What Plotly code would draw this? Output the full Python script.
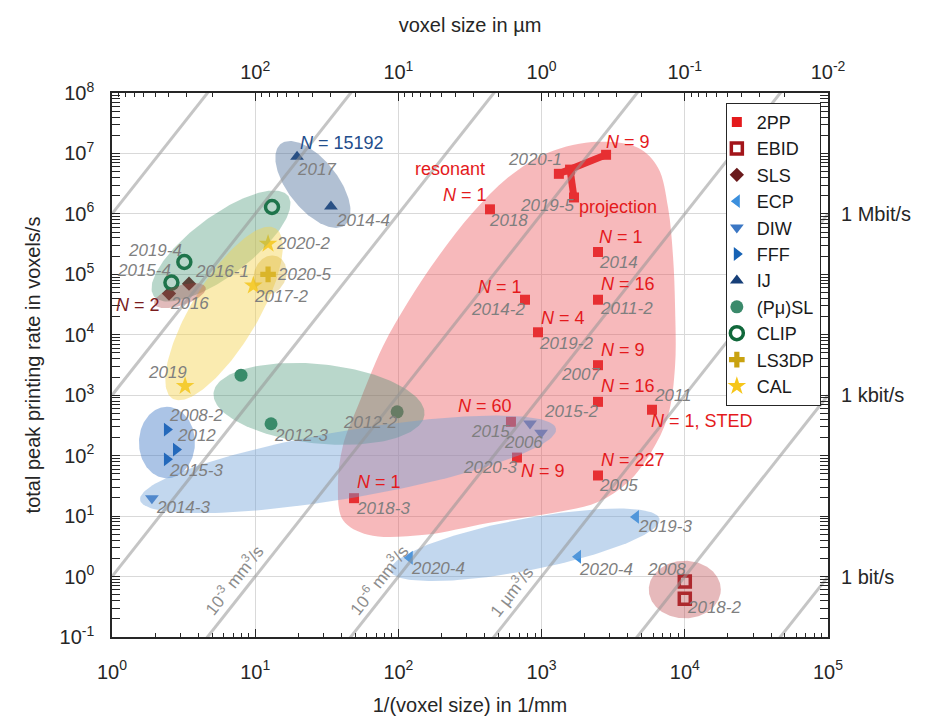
import numpy as np
import plotly.graph_objects as go

# ---------------- data (x: 1/voxel size in 1/mm, y: voxels/s) ----------------
pp_x = [436, 2477, 2477, 766, 944, 2477, 2477, 5900, 611, 673, 2477, 49]
pp_y = [1.19e6, 2.34e5, 3.8e4, 3.8e4, 1.1e4, 3.14e3, 777, 575, 363, 93, 47, 19.8]
pp_year = ['2018', '2014', '2011-2', '2014-2', '2019-2', '2007', '2015-2', '2011', '2015', '2020-3', '2005', '2018-3']
pp_N = ['1', '1', '16', '1', '4', '9', '16', '1, STED', '60', '9', '227', '1']

# 2PP projection / resonant "T" (2020-1 -> N=9 ; branch -> 2019-5)
proj_x = [1320, 2820]
proj_y = [4.6e6, 9.5e6]
branch_x = [1580, 1683]
branch_y = [5.4e6, 1.87e6]

ebid_x = [1e4, 1e4]
ebid_y = [0.83, 0.43]
ebid_year = ['2008', '2018-2']

sls_x = [3.45, 2.5]
sls_y = [7e4, 4.8e4]
sls_year = ['2016-1', '2016']

ecp_x = [4560, 1796, 120]
ecp_y = [9.7, 2.13, 2.05]
ecp_year = ['2019-3', '2020-4', '2020-4']

diw_x = [1.9, 830, 991]
diw_y = [19.8, 339, 240]
diw_year = ['2014-3', '2006', '']

fff_x = [2.42, 2.8, 2.42]
fff_y = [270, 126, 87]
fff_year = ['2008-2', '2012', '2015-3']

ij_x = [19.6, 33.8]
ij_y = [8.8e6, 1.33e6]
ij_year = ['2017', '2014-4']

psl_x = [7.96, 12.9, 98]
psl_y = [2150, 337, 532]
psl_year = ['', '2012-3', '2012-2']

clip_x = [13.1, 3.2, 2.6]
clip_y = [1.3e6, 1.6e5, 7.3e4]
clip_year = ['', '2019-4', '2015-4']

ls3dp_x = [12.3]
ls3dp_y = [1.0e5]
ls3dp_year = ['2020-5']

cal_x = [12.3, 9.7, 3.24]
cal_y = [3.2e5, 6.5e4, 1420]
cal_year = ['2020-2', '2017-2', '2019']

# constant volumetric rate lines (mm^3/s): y = V * x^3
vol_rates = [1e6, 1e3, 1, 1e-3, 1e-6, 1e-9, 1e-12, 1e-15]
vol_labels = ['10<sup>-3</sup> mm<sup>3</sup>/s', '10<sup>-6</sup> mm<sup>3</sup>/s', '1 µm<sup>3</sup>/s']
vol_label_x = [7.0, 72, 611]
vol_label_y = [0.89, 0.89, 0.57]

# 2PP region outline
red_x = [2477, 4710, 6500, 7640, 8280, 8550, 8550, 7640, 5810, 4010, 2477, 1300, 423, 153,
         61.4, 41.0, 37.8, 41.0, 52.2, 78.0, 117, 189, 332, 582, 1109]
red_y = [1.56e7, 1.24e7, 5.82e6, 1.28e6, 1.94e5, 2.92e4, 3030, 457, 113, 36.3, 17.1, 11.7, 7.7, 4.9,
         4.9, 8.6, 32.4, 147, 667, 6460, 3.53e4, 1.94e5, 1.06e6, 3.99e6, 1.03e7]

# tick values
x_ticks = [1, 10, 100, 1e3, 1e4, 1e5]
x_ticktext = ['10<sup>0</sup>', '10<sup>1</sup>', '10<sup>2</sup>', '10<sup>3</sup>', '10<sup>4</sup>', '10<sup>5</sup>']
top_ticks = [10, 100, 1e3, 1e4, 1e5]
top_ticktext = ['10<sup>2</sup>', '10<sup>1</sup>', '10<sup>0</sup>', '10<sup>-1</sup>', '10<sup>-2</sup>']
y_ticks = [10.0 ** k for k in range(-1, 9)]
y_ticktext = ['10<sup>%d</sup>' % k for k in range(-1, 9)]
right_ticks = [1, 1e3, 1e6]
right_ticktext = ['1 bit/s', '1 kbit/s', '1 Mbit/s']

# ---------------- styling ----------------
FONT = 'Liberation Sans, Arial, Helvetica, sans-serif'
XDEC = 716 / 5.0
YDEC = 548 / 9.0
GRAY = '#7f7f7f'
RED = '#e41a1c'

fig = go.Figure()


def add_markers(name, xs, ys, symbol, color, size, lw=0):
    fig.add_trace(go.Scatter(
        x=xs, y=ys, mode='markers', name=name,
        marker=dict(symbol=symbol, color=color, size=size,
                    line=dict(width=lw, color=color)),
        hoverinfo='skip'))


add_markers('2PP', pp_x, pp_y, 'square', RED, 10)
add_markers('EBID', ebid_x, ebid_y, 'square-open', '#a3151a', 11, 3.5)
add_markers('SLS', sls_x, sls_y, 'diamond', '#6a1a1c', 11)
add_markers('ECP', ecp_x, ecp_y, 'triangle-left', '#3b8fdd', 12)
add_markers('DIW', diw_x, diw_y, 'triangle-down', '#3b77c4', 12)
add_markers('FFF', fff_x, fff_y, 'triangle-right', '#1763b5', 12)
add_markers('IJ', ij_x, ij_y, 'triangle-up', '#163f78', 12)
add_markers('(Pμ)SL', psl_x, psl_y, 'circle', '#3b8a6b', 13)
add_markers('CLIP', clip_x, clip_y, 'circle-open', '#11683b', 13, 3.5)
add_markers('LS3DP', ls3dp_x, ls3dp_y, 'cross', '#c9a210', 13)
add_markers('CAL', cal_x, cal_y, 'star', '#f6c61a', 14)

# projection T shape
for xs, ys in [(proj_x, proj_y), (branch_x, branch_y)]:
    fig.add_trace(go.Scatter(x=xs, y=ys, mode='lines+markers', showlegend=False,
                             line=dict(color=RED, width=7),
                             marker=dict(symbol='square', size=10, color=RED),
                             hoverinfo='skip'))


def ellipse(cx, cy, a, b, ang):
    t = np.linspace(0, 2 * np.pi, 160)
    th = np.deg2rad(ang)
    ox = a * np.cos(t) * np.cos(th) - b * np.sin(t) * np.sin(th)
    oy = a * np.cos(t) * np.sin(th) + b * np.sin(t) * np.cos(th)
    return 10 ** (np.log10(cx) + ox / XDEC), 10 ** (np.log10(cy) + oy / YDEC)


regions = [
    # cx, cy, semi-axis a (px), semi-axis b (px), angle, color
    (25.3, 3.07e6, 52, 25, -52, 'rgba(70,105,150,0.42)'),     # IJ
    (5.77, 2.94e5, 84, 30, 37, 'rgba(55,140,105,0.35)'),       # CLIP/(Pu)SL
    (6.06, 2.25e4, 100, 33, 59, 'rgba(245,210,80,0.45)'),      # CAL
    (12.7, 9.8e4, 20, 16, 70, 'rgba(215,175,40,0.35)'),        # LS3DP
    (2.98, 4.44e4, 27, 10, 18, 'rgba(170,60,60,0.35)'),        # SLS
    (27.9, 719, 106, 40, -6, 'rgba(55,140,105,0.35)'),         # (Pu)SL
    (2.42, 165, 36, 28, 90, 'rgba(55,115,195,0.42)'),          # FFF
    (44.5, 71.8, 211, 34, 9.8, 'rgba(110,160,215,0.42)'),      # DIW
    (766, 3.35, 137, 26, 11, 'rgba(110,160,215,0.42)'),        # ECP
    (1.0e4, 0.61, 36, 29, 0, 'rgba(190,70,75,0.38)'),          # EBID
]

fig.add_trace(go.Scatter(x=red_x + [red_x[0]], y=red_y + [red_y[0]], mode='lines',
                         line=dict(width=0, shape='spline', smoothing=1.0),
                         fill='toself', fillcolor='rgba(235,80,85,0.40)',
                         showlegend=False, hoverinfo='skip'))
for cx, cy, a, b, ang, col in regions:
    ex, ey = ellipse(cx, cy, a, b, ang)
    fig.add_trace(go.Scatter(x=ex, y=ey, mode='lines', line=dict(width=0),
                             fill='toself', fillcolor=col, showlegend=False,
                             hoverinfo='skip'))

# constant-volume-rate lines
for v in vol_rates:
    lx = np.array([1.0, 1e5])
    fig.add_trace(go.Scatter(x=lx, y=v * lx ** 3, mode='lines', showlegend=False,
                             line=dict(color='rgba(150,150,150,0.55)', width=3),
                             hoverinfo='skip'))

# dummy traces to activate secondary axes
fig.add_trace(go.Scatter(x=[10], y=[10], xaxis='x2', yaxis='y', mode='markers',
                         marker=dict(opacity=0), showlegend=False, hoverinfo='skip'))
fig.add_trace(go.Scatter(x=[10], y=[10], xaxis='x', yaxis='y2', mode='markers',
                         marker=dict(opacity=0), showlegend=False, hoverinfo='skip'))

# ---------------- annotations ----------------
ann = []


def label(x, y, text, dx, dy, color=GRAY, size=17, italic=True):
    t = '<i>%s</i>' % text if italic else text
    ann.append(dict(x=np.log10(x), y=np.log10(y), xref='x', yref='y', text=t,
                    showarrow=False, xshift=dx, yshift=dy, xanchor='center',
                    yanchor='middle', font=dict(size=size, color=color, family=FONT)))


def nlabel(x, y, n, dx, dy, color=RED):
    ann.append(dict(x=np.log10(x), y=np.log10(y), xref='x', yref='y',
                    text='<i>N</i> = %s' % n, showarrow=False, xshift=dx, yshift=dy,
                    xanchor='center', yanchor='middle',
                    font=dict(size=18, color=color, family=FONT)))


pp_year_off = [(19, -11), (20, -10), (28, -9), (-27, -10), (28, -11), (-18, -9), (-27, -10),
               (21, 14), (-20, -10), (-27, -10), (20, -10), (29, -10)]
pp_N_off = [(-25, 14), (23, 15), (30, 16), (-25, 13), (25, 14), (25, 15), (30, 16),
            (50, -11), (-26, 16), (26, -13), (35, 15), (25, 16)]
for i in range(len(pp_x)):
    label(pp_x[i], pp_y[i], pp_year[i], *pp_year_off[i])
    nlabel(pp_x[i], pp_y[i], pp_N[i], *pp_N_off[i])

label(pp_x[0], pp_y[0], 'resonant', -40, 40, color=RED, size=18, italic=False)
label(proj_x[0], proj_y[0], '2020-1', -24, 14)
nlabel(proj_x[1], proj_y[1], '9', 22, 13)
label(branch_x[1], branch_y[1], '2019-5', -27, -8)
label(branch_x[1], branch_y[1], 'projection', 44, -10, color=RED, size=18, italic=False)

for xs, ys, yrs, offs in [
    (ebid_x, ebid_y, ebid_year, [(-18, 12), (29, -9)]),
    (sls_x, sls_y, sls_year, [(33, 12), (21, -10)]),
    (ecp_x, ecp_y, ecp_year, [(29, -10), (28, -13), (28, -11)]),
    (diw_x, diw_y, diw_year, [(31, -9), (-7, -19), (0, 0)]),
    (fff_x, fff_y, fff_year, [(29, 14), (20, 14), (29, -11)]),
    (ij_x, ij_y, ij_year, [(19, -13), (32, -14)]),
    (psl_x, psl_y, psl_year, [(0, 0), (30, -12), (-27, -11)]),
    (clip_x, clip_y, clip_year, [(0, 0), (-29, 12), (-27, 12)]),
    (ls3dp_x, ls3dp_y, ls3dp_year, [(36, 0)]),
    (cal_x, cal_y, cal_year, [(35, 0), (28, -11), (-18, 14)]),
]:
    for i in range(len(xs)):
        if yrs[i]:
            label(xs[i], ys[i], yrs[i], *offs[i])

nlabel(sls_x[1], sls_y[1], '2', -31, -11, color='#7a1c1e')
nlabel(ij_x[0], ij_y[0], '15192', 45, 14, color='#1f4e8c')

angle = -np.degrees(np.arctan(3 * YDEC / XDEC))
for t, x, y in zip(vol_labels, vol_label_x, vol_label_y):
    ann.append(dict(x=np.log10(x), y=np.log10(y), xref='x', yref='y', text=t,
                    showarrow=False, textangle=angle, xanchor='center', yanchor='middle',
                    font=dict(size=17, color='#8c8c8c', family=FONT)))

# ---------------- axes ----------------
minor_vals = [k * 10.0 ** d for d in range(-1, 8) for k in range(2, 10)]
x_minor = [k * 10.0 ** d for d in range(0, 5) for k in range(2, 10)]
top_minor = [1000.0 / (k * 10.0 ** d) for d in range(-2, 3) for k in range(2, 10)]
top_minor = [v for v in top_minor if 1 <= v <= 1e5]

axis_common = dict(type='log', ticks='inside', ticklen=8, tickwidth=1, tickcolor='#262626',
                   showline=True, linecolor='#262626', linewidth=1.5, zeroline=False,
                   tickfont=dict(size=20, family=FONT, color='#262626'))

fig.update_layout(
    width=926, height=717,
    margin=dict(l=104, r=106, t=85, b=84),
    paper_bgcolor='white', plot_bgcolor='white',
    font=dict(family=FONT, size=20, color='#262626'),
    annotations=ann,
    legend=dict(x=0.99, y=0.982, xanchor='right', yanchor='top', bgcolor='white',
                bordercolor='#262626', borderwidth=1, font=dict(size=18, family=FONT, color='#1a1a1a'),
                itemwidth=30, tracegroupgap=0, indentation=-10),
    xaxis=dict(axis_common, range=[0, 5], tickvals=x_ticks, ticktext=x_ticktext,
               showgrid=True, gridcolor='#d9d9d9', gridwidth=1, ticklabelstandoff=16,
               minor=dict(tickvals=x_minor, ticks='inside', ticklen=4, tickcolor='#262626', showgrid=False),
               title=dict(text='1/(voxel size) in 1/mm', font=dict(size=20), standoff=16)),
    xaxis2=dict(axis_common, range=[0, 5], overlaying='x', side='top', anchor='y',
                tickvals=top_ticks, ticktext=top_ticktext, showgrid=False, ticklabelstandoff=4,
                minor=dict(tickvals=top_minor, ticks='inside', ticklen=4, tickcolor='#262626', showgrid=False),
                title=dict(text='voxel size in µm', font=dict(size=20), standoff=20)),
    yaxis=dict(axis_common, range=[-1, 8], tickvals=y_ticks, ticktext=y_ticktext,
               showgrid=True, gridcolor='#d9d9d9', gridwidth=1, ticklabelstandoff=12,
               mirror='allticks',
               minor=dict(tickvals=minor_vals, ticks='inside', ticklen=4, tickcolor='#262626', showgrid=False),
               title=dict(text='total peak printing rate in voxels/s', font=dict(size=20), standoff=14)),
    yaxis2=dict(type='log', range=[-1, 8], overlaying='y', side='right', anchor='x',
                tickvals=right_ticks, ticktext=right_ticktext, showgrid=False, ticks='',
                showline=False, zeroline=False, ticklabelstandoff=12,
                tickfont=dict(size=20, family=FONT, color='#262626')),
)

fig.write_html('out.html')
